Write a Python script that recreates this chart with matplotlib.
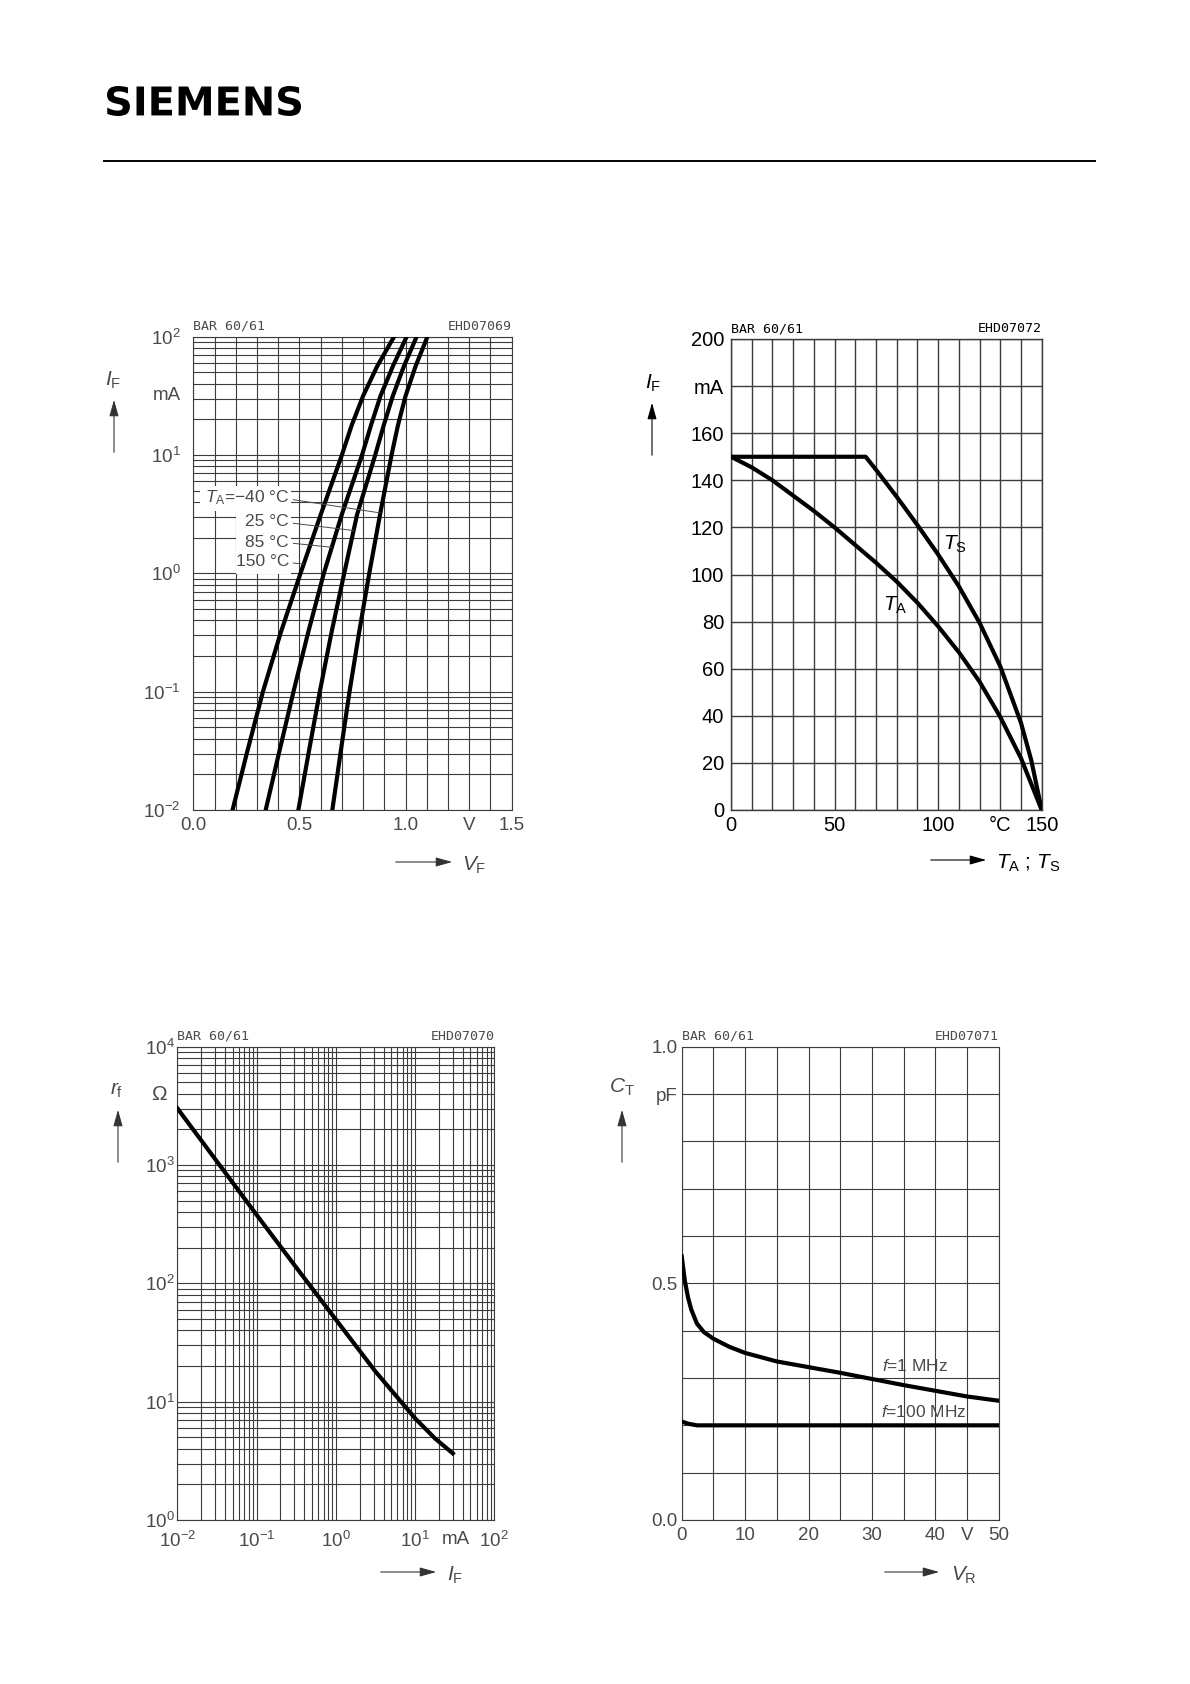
import numpy as np
import matplotlib
matplotlib.use("Agg")
import matplotlib.pyplot as plt
from matplotlib.patches import FancyArrowPatch, PathPatch, Rectangle
from matplotlib.lines import Line2D
from matplotlib.textpath import TextPath
from matplotlib.font_manager import FontProperties
from matplotlib.transforms import Affine2D

plt.rcParams["font.family"] = ["Liberation Sans", "DejaVu Sans"]
plt.rcParams["mathtext.fontset"] = "custom"
plt.rcParams["mathtext.rm"] = "Liberation Sans"
plt.rcParams["mathtext.it"] = "Liberation Sans:italic"
plt.rcParams["mathtext.bf"] = "Liberation Sans:bold"

# =========================
# data
# =========================
# forward current vs forward voltage, I_F in mA, V_F in V
if_pts = [0.01, 0.0316, 0.1, 0.316, 1, 3.16, 10, 17.8, 31.6, 56.2, 100]
vf_150 = [0.185, 0.255, 0.328, 0.412, 0.505, 0.601, 0.700, 0.746, 0.800, 0.866, 0.946]
vf_85 = [0.341, 0.406, 0.472, 0.541, 0.615, 0.700, 0.795, 0.837, 0.882, 0.940, 1.005]
vf_25 = [0.495, 0.545, 0.596, 0.651, 0.711, 0.772, 0.857, 0.897, 0.940, 0.992, 1.052]
vf_m40 = [0.655, 0.695, 0.736, 0.781, 0.829, 0.880, 0.934, 0.964, 1.000, 1.047, 1.103]
temp_labels = ["$T_\\mathrm{A}$=\u221240 °C", "25 °C", "85 °C", "150 °C"]
leader_if = [3.24, 2.3, 1.66, 1.2]  # mA where each leader line meets its curve

# forward current vs temperature (mA, °C)
ts_t = [0, 65, 70, 80, 90, 100, 110, 120, 130, 140, 145, 150]
ts_i = [150, 150, 144.5, 133, 121, 108.5, 95, 79.5, 61, 37, 21, 0]
ta_t = [0, 10, 20, 30, 40, 50, 60, 70, 80, 90, 100, 110, 120, 130, 140, 150]
ta_i = [150, 145.5, 140, 133.5, 127, 120, 112.5, 105, 97, 88, 78, 67, 54.5, 39.5, 22, 0]

# forward resistance (Ohm) vs forward current (mA)
rf_if = [0.01, 0.0316, 0.1, 0.316, 1.0, 3.16, 10, 17.8, 30]
rf_ohm = [3020, 1072, 380, 136.5, 49.5, 18.0, 7.24, 4.9, 3.65]

# capacitance (pF) vs reverse voltage (V)
vr_1m = [0, 0.5, 1, 1.5, 2.4, 3.5, 5, 7.5, 10, 15, 20, 25, 30, 35, 40, 45, 50]
ct_1m = [0.557, 0.505, 0.470, 0.445, 0.415, 0.397, 0.383, 0.366, 0.353, 0.335,
         0.323, 0.311, 0.298, 0.285, 0.273, 0.261, 0.252]
vr_100m = [0, 1, 2.4, 50]
ct_100m = [0.208, 0.2035, 0.200, 0.200]

# =========================
# helpers
# =========================
W, H = 1190, 1684
GRID = "#3c3c3c"
TXT = "#4a4a4a"


def px(x, y):
    return (x / W, 1 - y / H)


def axes_at(fig, left, top, right, bottom):
    return fig.add_axes([left / W, 1 - bottom / H, (right - left) / W, (bottom - top) / H])


def grid(ax, xs, ys, lw=0.8):
    for x in xs:
        ax.axvline(x, color=GRID, lw=lw, zorder=1)
    for y in ys:
        ax.axhline(y, color=GRID, lw=lw, zorder=1)
    for s in ax.spines.values():
        s.set_color(GRID)
        s.set_linewidth(lw)
        s.set_zorder(1)


def arrow(fig, x0, y0, x1, y1, color="#333333"):
    fig.add_artist(FancyArrowPatch(
        px(x0, y0), px(x1, y1), transform=fig.transFigure,
        arrowstyle="-|>,head_length=1.0,head_width=0.28",
        mutation_scale=10, lw=0.8, color=color))


def log_grid(lo, hi):
    return [m * 10.0 ** e for e in range(lo, hi) for m in range(1, 10)] + [10.0 ** hi]


def sup(e):
    return "$\\mathregular{10^{%d}}$" % e


def header(ax, left, right, color=TXT):
    for x, s, ha in ((0.0, left, "left"), (1.0, right, "right")):
        ax.text(x, 1.008, s, transform=ax.transAxes, ha=ha, va="bottom",
                family="DejaVu Sans Mono", fontsize=9.5, color=color)


fig = plt.figure(figsize=(W / 100, H / 100), dpi=100)

# =========================
# page header
# =========================
tp = TextPath((0, 0), "SIEMENS", size=100,
              prop=FontProperties(family="DejaVu Sans", weight="bold"))
bb = tp.get_extents()
logo_tr = (Affine2D().translate(-bb.x0, -bb.y0)
           .scale((301 - 107) / W / bb.width, (116 - 86) / H / bb.height)
           .translate(107 / W, 1 - 116 / H))
fig.add_artist(PathPatch(logo_tr.transform_path(tp), transform=fig.transFigure,
                         fc="black", ec="none"))
fig.add_artist(Line2D([104 / W, 1095 / W], [1 - 161 / H, 1 - 161 / H],
                      transform=fig.transFigure, color="black", lw=1.4))

# =========================
# 1) I_F = f(V_F)
# =========================
ax1 = axes_at(fig, 193.3, 336.7, 511.7, 810)
ax1.set_yscale("log")
ax1.set_xlim(0, 1.5)
ax1.set_ylim(1e-2, 1e2)
grid(ax1, np.arange(0, 1.51, 0.1), log_grid(-2, 2))
for v in (vf_150, vf_85, vf_25, vf_m40):
    ax1.plot(v, if_pts, color="black", lw=3.0, zorder=3)
ax1.set_xticks([0, 0.5, 1.0, 1.3, 1.5], ["0.0", "0.5", "1.0", "V", "1.5"])
ax1.set_yticks([1e-2, 1e-1, 1e0, 1e1, 10 ** 1.52, 1e2],
               [sup(-2), sup(-1), sup(0), sup(1), "mA", sup(2)])
ax1.minorticks_off()
ax1.tick_params(length=0, labelsize=13.5, colors=TXT, pad=5)
ax1.tick_params(axis="y", pad=9)
header(ax1, "BAR 60/61", "EHD07069")

# white panel behind the temperature labels
ax1.add_patch(Rectangle((0.021, 0.6317), 0.286, 0.053, transform=ax1.transAxes,
                        fc="white", ec="none", zorder=2))
ax1.add_patch(Rectangle((0.134, 0.4986), 0.173, 0.1373, transform=ax1.transAxes,
                        fc="white", ec="none", zorder=2))
label_fy = [0.659, 0.6085, 0.566, 0.524]
for lab, fy, v, i_hit in zip(temp_labels, label_fy, (vf_m40, vf_25, vf_85, vf_150), leader_if):
    v_hit = np.interp(np.log10(i_hit), np.log10(if_pts), v)
    ax1.annotate(lab, xy=(v_hit, i_hit), xycoords="data",
                 xytext=(0.3006, fy), textcoords="axes fraction",
                 ha="right", va="center", fontsize=12.5, color=TXT, zorder=4,
                 arrowprops=dict(arrowstyle="-", color=TXT, lw=0.7,
                                 relpos=(1.0, 0.45), shrinkA=1, shrinkB=0))

fig.text(*px(113, 380), "$I_\\mathrm{F}$", ha="center", va="center", fontsize=15, color=TXT)
arrow(fig, 114, 455, 114, 397)
arrow(fig, 393, 862, 455, 862)
fig.text(*px(462, 865), "$V_\\mathrm{F}$", ha="left", va="center", fontsize=15, color=TXT)

# =========================
# 2) I_F = f(T_A; T_S)
# =========================
ax2 = axes_at(fig, 731, 339, 1041.7, 810)
ax2.set_xlim(0, 150)
ax2.set_ylim(0, 200)
grid(ax2, np.arange(0, 151, 10), np.arange(0, 201, 20), lw=1.0)
ax2.plot(ts_t, ts_i, color="black", lw=3.0, zorder=3)
ax2.plot(ta_t, ta_i, color="black", lw=3.0, zorder=3)
ax2.set_xticks([0, 50, 100, 130, 150], ["0", "50", "100", "°C", "150"])
ax2.set_yticks([0, 20, 40, 60, 80, 100, 120, 140, 160, 180, 200],
               ["0", "20", "40", "60", "80", "100", "120", "140", "160", "mA", "200"])
ax2.tick_params(length=0, labelsize=14.5, colors="black", pad=4)
ax2.tick_params(axis="y", pad=5)
header(ax2, "BAR 60/61", "EHD07072", color="black")
ax2.text(102.5, 113, "$T_\\mathrm{S}$", fontsize=15, ha="left", va="center")
ax2.text(73.5, 87, "$T_\\mathrm{A}$", fontsize=15, ha="left", va="center")

fig.text(*px(653, 383), "$I_\\mathrm{F}$", ha="center", va="center", fontsize=15)
arrow(fig, 652, 458, 652, 400, color="black")
arrow(fig, 928, 860, 989, 860, color="black")
fig.text(*px(996, 863), "$T_\\mathrm{A}$ ; $T_\\mathrm{S}$", ha="left", va="center", fontsize=15)

# =========================
# 3) r_f = f(I_F)
# =========================
ax3 = axes_at(fig, 177.3, 1046.7, 494.3, 1520)
ax3.set_xscale("log")
ax3.set_yscale("log")
ax3.set_xlim(1e-2, 1e2)
ax3.set_ylim(1e0, 1e4)
grid(ax3, log_grid(-2, 2), log_grid(0, 4))
ax3.plot(rf_if, rf_ohm, color="black", lw=3.0, zorder=3)
ax3.set_xticks([1e-2, 1e-1, 1e0, 1e1, 10 ** 1.52, 1e2],
               [sup(-2), sup(-1), sup(0), sup(1), "mA", sup(2)])
ax3.set_yticks([1e0, 1e1, 1e2, 1e3, 1e4],
               [sup(0), sup(1), sup(2), sup(3), sup(4)])
ax3.minorticks_off()
ax3.tick_params(length=0, labelsize=13.5, colors=TXT, pad=8)
ax3.tick_params(axis="y", pad=2)
ax3.text(-0.034, 10 ** 3.6, "\u03a9", transform=ax3.get_yaxis_transform(),
         ha="right", va="center", fontsize=15, color=TXT)
header(ax3, "BAR 60/61", "EHD07070")

fig.text(*px(117, 1090), "$r_\\mathrm{f}$", ha="center", va="center", fontsize=15, color=TXT)
arrow(fig, 118, 1165, 118, 1107)
arrow(fig, 378, 1572, 439, 1572)
fig.text(*px(447, 1575), "$I_\\mathrm{F}$", ha="left", va="center", fontsize=15, color=TXT)

# =========================
# 4) C_T = f(V_R)
# =========================
ax4 = axes_at(fig, 681.7, 1046.7, 998.7, 1520)
ax4.set_xlim(0, 50)
ax4.set_ylim(0, 1.0)
grid(ax4, np.arange(0, 51, 5), np.arange(0, 1.01, 0.1))
ax4.plot(vr_1m, ct_1m, color="black", lw=3.0, zorder=3)
ax4.plot(vr_100m, ct_100m, color="black", lw=3.0, zorder=3)
ax4.set_xticks([0, 10, 20, 30, 40, 45, 50], ["0", "10", "20", "30", "40", "V", "50"])
ax4.set_yticks([0.0, 0.5, 0.9, 1.0], ["0.0", "0.5", "pF", "1.0"])
ax4.tick_params(length=0, labelsize=13.5, colors=TXT, pad=5)
ax4.tick_params(axis="y", pad=3)
header(ax4, "BAR 60/61", "EHD07071")
ax4.text(31.6, 0.325, "$f$=1 MHz", fontsize=12.5, color=TXT, ha="left", va="center")
ax4.text(31.4, 0.229, "$f$=100 MHz", fontsize=12.5, color=TXT, ha="left", va="center")

fig.text(*px(622, 1087), "$C_\\mathrm{T}$", ha="center", va="center", fontsize=15, color=TXT)
arrow(fig, 622, 1165, 622, 1107)
arrow(fig, 882, 1572, 942, 1572)
fig.text(*px(951, 1575), "$V_\\mathrm{R}$", ha="left", va="center", fontsize=15, color=TXT)

fig.savefig("out.png", dpi=100, facecolor="white")
